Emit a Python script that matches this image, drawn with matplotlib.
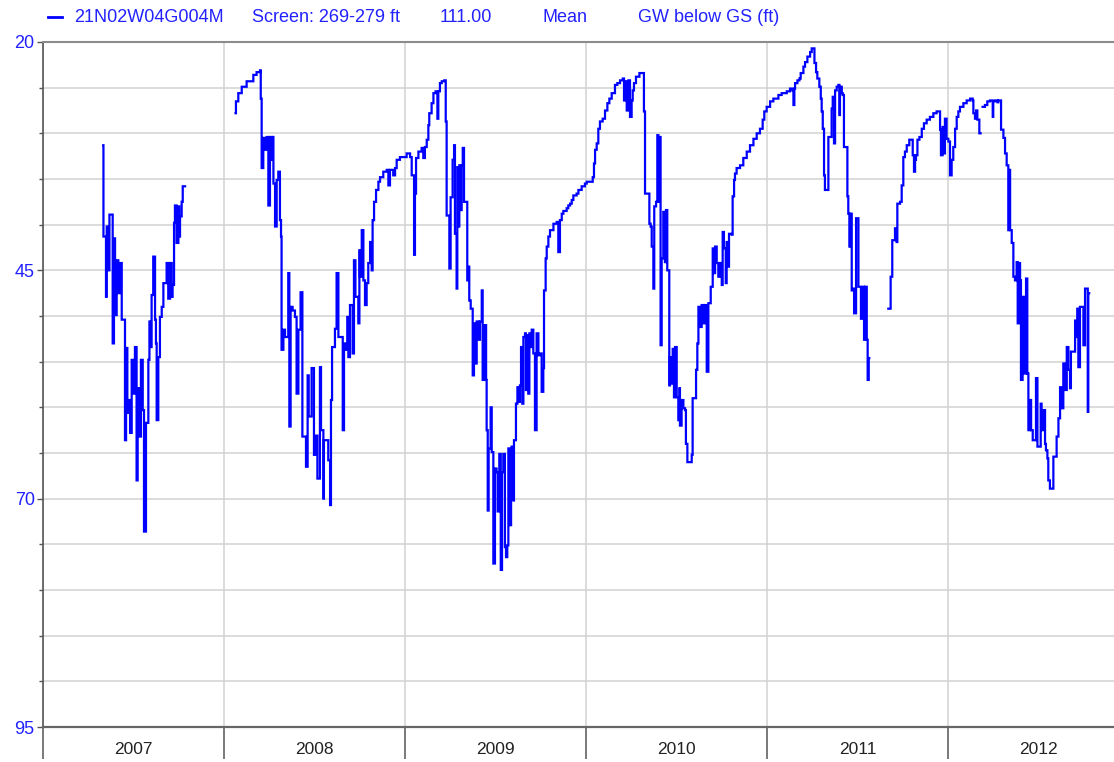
import numpy as np
import matplotlib
matplotlib.use("Agg")
import matplotlib.pyplot as plt
from matplotlib.lines import Line2D
from matplotlib.ticker import MultipleLocator, FixedLocator, NullFormatter

plt.rcParams['font.family'] = ['Liberation Sans', 'DejaVu Sans']

# ---------------- well 21N02W04G004M, depth to GW below ground surface (ft) ----------------
# readings as fraction of the calendar year ; None = break in the record
years = [2007, 2008, 2009, 2010, 2011, 2012]

f07 = [.333, .334, .348, .352, .361, .367, .385, .392, .398, .407, .416, .425, .435, .453, .459, .466, .472, .481,
       .490, .499, .508, .517, .523, .532, .541, .551, .558, .569, .582, .588, .595, .600, .609, .619, .624, .628,
       .637, .646, .656, .665, .683, .692, .702, .711, .716, .724, .729, .738, .748, .753, .757, .766, .772, .785]
d07 = [31.3, 41.3, 47.9, 40.2, 45.0, 38.9, 53.0, 41.5, 49.9, 43.9, 47.5, 44.2, 50.4, 63.6, 53.5, 60.6, 59.2, 62.8,
       54.8, 58.5, 53.4, 68.0, 57.9, 63.2, 54.8, 60.3, 73.6, 61.7, 54.8, 50.6, 53.4, 47.7, 43.5, 50.4, 53.0, 61.4,
       54.5, 50.1, 49.0, 46.4, 44.2, 48.1, 44.2, 47.9, 46.6, 39.8, 37.9, 42.0, 38.0, 41.3, 39.1, 37.5, 35.8, None]

f08 = [.064, .066, .079, .098, .125, .162, .180, .199, .203, .208, .217, .227, .236, .245, .254, .263, .269, .273,
       .282, .291, .300, .309, .315, .318, .328, .337, .355, .361, .368, .379, .392, .401, .411, .423, .433, .453,
       .462, .468, .484, .497, .508, .516, .530, .536, .549, .552, .576, .586, .591, .597, .613, .622, .632, .656,
       .663, .674, .681, .687, .696, .711, .718, .726, .742, .748, .751, .761, .770, .779, .788, .797, .807, .816,
       .821, .829, .840, .853, .862, .880, .899, .908, .917, .935, .945, .954, .972]
d08 = [27.8, 26.5, 25.6, 24.9, 24.3, 23.6, 23.3, 23.1, 26.2, 33.8, 30.5, 31.8, 30.4, 37.9, 30.4, 32.9, 30.4, 35.5,
       40.2, 35.1, 34.2, 39.5, 41.3, 53.7, 51.5, 52.3, 45.3, 62.1, 49.0, 49.4, 50.1, 58.5, 51.5, 47.4, 63.2, 66.5,
       56.5, 61.0, 55.7, 65.2, 63.1, 67.8, 55.6, 62.5, 70.0, 63.6, 65.8, 70.7, 59.2, 53.4, 51.4, 45.3, 52.3, 62.5,
       53.0, 53.7, 50.1, 54.5, 48.8, 54.1, 43.9, 47.9, 50.8, 42.8, 45.7, 40.6, 46.1, 48.8, 46.4, 44.2, 41.9, 45.0,
       39.5, 37.5, 36.2, 35.3, 34.8, 34.2, 34.0, 35.7, 34.0, 34.6, 33.8, 32.9, 32.6]

f09 = [.009, .028, .037, .050, .055, .061, .074, .092, .101, .110, .120, .129, .134, .147, .157, .169, .179, .184,
       .193, .203, .217, .225, .230, .245, .252, .263, .271, .276, .285, .289, .295, .300, .307, .313, .319, .326,
       .344, .350, .355, .363, .374, .381, .387, .396, .405, .414, .424, .429, .436, .448, .451, .457, .462, .473,
       .479, .488, .497, .506, .512, .521, .529, .536, .543, .552, .558, .565, .571, .580, .586, .589, .599, .602,
       .613, .621, .630, .635, .641, .648, .654, .663, .668, .676, .681, .687, .694, .700, .709, .718, .727, .737,
       .746, .755, .764, .768, .777, .783, .792, .801, .820, .838, .847, .856, .866, .875, .893, .902, .912, .921,
       .930, .948, .958, .976, .994]
d09 = [32.2, 32.6, 34.6, 43.3, 36.6, 32.7, 32.0, 31.6, 32.7, 31.5, 30.7, 29.1, 27.8, 26.7, 25.6, 25.4, 28.4, 25.4,
       24.5, 24.3, 24.2, 28.7, 39.0, 44.8, 37.0, 32.9, 31.3, 41.0, 47.0, 33.7, 40.2, 33.5, 38.4, 33.5, 31.6, 37.5,
       46.1, 44.6, 48.3, 49.2, 56.5, 50.8, 55.2, 50.6, 52.6, 50.6, 47.2, 57.0, 51.0, 57.0, 62.5, 71.3, 64.5, 60.0,
       64.9, 77.1, 66.7, 67.1, 71.4, 65.1, 77.8, 67.1, 65.1, 75.3, 76.4, 75.1, 64.5, 72.9, 66.9, 64.3, 70.2, 63.6,
       59.6, 57.8, 59.4, 57.6, 53.4, 59.6, 52.3, 51.9, 58.1, 52.1, 58.5, 51.9, 53.4, 51.5, 54.1, 62.5, 51.9, 54.3,
       54.1, 58.3, 55.7, 47.2, 43.7, 42.4, 41.3, 40.6, 39.9, 39.7, 43.0, 39.5, 38.8, 38.5, 38.2, 37.9, 37.7, 37.3,
       36.8, 36.6, 36.2, 35.8, 35.5]

f10 = [.004, .037, .044, .050, .059, .068, .077, .092, .105, .118, .129, .142, .160, .173, .188, .203, .210, .215,
       .225, .234, .243, .252, .258, .265, .276, .295, .320, .326, .350, .357, .363, .372, .377, .387, .394, .400,
       .405, .412, .418, .427, .436, .442, .449, .460, .464, .473, .479, .486, .492, .501, .510, .516, .519, .528,
       .538, .547, .552, .560, .584, .589, .608, .615, .621, .630, .639, .648, .657, .667, .676, .689, .700, .707,
       .713, .722, .731, .740, .750, .755, .762, .772, .777, .783, .790, .805, .810, .818, .823, .832, .851, .869,
       .888, .906, .925, .943, .961, .976, .985, .998]
d10 = [35.3, 34.8, 33.3, 31.8, 31.1, 29.5, 28.7, 28.4, 27.5, 26.7, 26.2, 25.6, 24.7, 24.5, 24.2, 24.0, 26.4, 24.3,
       27.5, 24.2, 28.2, 26.4, 25.3, 24.5, 23.8, 23.4, 27.6, 36.6, 39.9, 40.2, 42.4, 47.0, 38.0, 37.5, 30.2, 37.5,
       30.4, 53.2, 43.7, 38.6, 44.1, 38.4, 45.0, 57.6, 54.5, 57.4, 53.6, 58.9, 53.4, 58.9, 61.4, 57.9, 62.0, 59.2,
       60.1, 60.3, 64.0, 66.0, 65.2, 59.0, 55.9, 53.0, 49.0, 51.2, 48.8, 50.8, 48.8, 56.1, 48.6, 46.8, 42.6, 45.3,
       42.4, 44.2, 45.7, 44.2, 46.6, 40.8, 42.6, 46.4, 41.9, 44.6, 41.0, 41.1, 36.9, 35.1, 34.4, 33.8, 33.5, 32.7,
       32.0, 31.3, 30.6, 30.0, 29.5, 28.5, 27.6, 27.1]

f11 = [.017, .035, .063, .081, .109, .127, .140, .146, .151, .155, .168, .179, .186, .201, .210, .223, .238, .247,
       .262, .271, .278, .289, .297, .302, .308, .315, .320, .339, .357, .363, .370, .376, .385, .394, .400, .403,
       .413, .418, .425, .444, .449, .455, .462, .468, .477, .481, .492, .505, .519, .529, .536, .541, .551, .556,
       .562, .565, .670, .683, .692, .707, .716, .720, .735, .744, .753, .762, .772, .786, .805, .812, .818, .823,
       .831, .842, .855, .867, .882, .900, .919, .937, .956, .961, .970, .974, .983, .992]
d11 = [26.5, 26.2, 25.8, 25.6, 25.4, 25.1, 25.3, 26.9, 25.1, 24.5, 24.2, 24.0, 23.4, 22.7, 22.2, 21.6, 21.1, 20.7,
       22.3, 23.3, 24.0, 24.9, 26.2, 27.6, 29.5, 34.6, 36.2, 30.4, 27.3, 26.0, 31.1, 25.3, 24.9, 24.7, 28.0, 24.9,
       25.6, 25.8, 31.5, 36.9, 38.8, 42.4, 38.8, 47.2, 47.0, 49.7, 39.3, 46.8, 50.3, 46.8, 52.6, 46.8, 52.6, 57.0,
       54.6, None, 49.2, 45.7, 41.7, 40.4, 41.9, 37.7, 37.5, 35.7, 32.6, 32.0, 31.3, 30.7, 32.4, 34.2, 32.9, 32.4,
       30.7, 30.4, 29.5, 28.9, 28.5, 28.2, 27.8, 27.6, 29.6, 32.4, 29.3, 32.2, 28.4, 30.6]

f12 = [.002, .011, .020, .029, .039, .048, .057, .066, .085, .103, .122, .136, .140, .149, .155, .162, .173, .180,
       .191, .204, .217, .232, .247, .250, .260, .273, .278, .293, .306, .315, .324, .333, .338, .343, .352, .361,
       .370, .379, .385, .392, .398, .403, .412, .420, .431, .438, .444, .453, .459, .468, .486, .494, .512, .517,
       .527, .536, .541, .549, .554, .563, .582, .600, .610, .619, .628, .637, .646, .656, .665, .674, .679, .702,
       .707, .714, .720, .729, .748, .757, .772, .775, .780]
d12 = [30.9, 34.6, 32.9, 31.5, 29.5, 28.2, 27.6, 27.1, 26.7, 26.4, 26.2, 26.4, 27.8, 28.4, 27.5, 28.5, 30.0, None,
       27.1, 26.9, 26.5, 26.4, 28.2, 26.5, 26.4, 26.6, 26.4, 29.6, 30.5, 32.2, 33.5, 40.6, 34.0, 40.6, 42.0, 45.7,
       46.1, 44.1, 50.8, 44.2, 46.1, 57.0, 47.9, 56.3, 45.9, 56.3, 62.5, 59.2, 62.5, 63.6, 56.8, 64.3, 59.6, 62.5,
       60.3, 64.0, 64.7, 65.6, 68.0, 68.9, 65.4, 63.2, 61.2, 57.8, 60.1, 55.2, 58.1, 53.4, 55.9, 57.9, 53.9, 50.5,
       52.3, 49.2, 55.6, 49.0, 53.2, 47.0, 60.5, 47.5, None]

fracs = [f07, f08, f09, f10, f11, f12]
depths = [d07, d08, d09, d10, d11, d12]
# gap between end of 2007 record and the 2008 restart
gap_07 = 2007.785

t = np.concatenate([yr + np.array(f) for yr, f in zip(years, fracs)])
d = np.array([np.nan if v is None else v for dd in depths for v in dd], dtype=float)

# ---------------- plot ----------------
blue = '#0000ff'
txt_blue = '#2222ff'
fig = plt.figure(figsize=(11.14, 7.62), dpi=100)
ax = fig.add_axes([43 / 1114, 35 / 762, 1 - 43 / 1114, 685 / 762])

ax.plot(t, d, color=blue, lw=1.6, drawstyle='steps-post', solid_joinstyle='miter')

ax.set_xlim(2007, 2012.917)
ax.set_ylim(95, 20)

# year boundaries as long ticks + grid, year names centred in between
ax.xaxis.set_major_locator(FixedLocator(years))
ax.xaxis.set_major_formatter(NullFormatter())
ax.xaxis.set_minor_locator(FixedLocator([y + 0.5 for y in years]))
ax.set_xticklabels([str(y) for y in years], minor=True)
ax.tick_params(axis='x', which='major', length=23, width=1.1, color='#555555', direction='out')
ax.tick_params(axis='x', which='minor', length=0, pad=11, labelsize=12.5, labelcolor='#222222')

ax.yaxis.set_major_locator(FixedLocator([20, 45, 70, 95]))
ax.yaxis.set_minor_locator(MultipleLocator(5))
ax.tick_params(axis='y', which='both', direction='out', color='#555555', width=1.0)
ax.tick_params(axis='y', which='major', length=4.5, pad=1.5, labelsize=13, labelcolor=txt_blue)
ax.tick_params(axis='y', which='minor', length=3)

ax.grid(True, which='major', axis='x', color='#d2d2d2', lw=1.1)
ax.grid(True, which='minor', axis='y', color='#d2d2d2', lw=1.1)
ax.grid(True, which='major', axis='y', color='#d2d2d2', lw=1.1)
ax.set_axisbelow(True)

ax.spines['right'].set_visible(False)
ax.spines['top'].set_color('#8c8c8c')
ax.spines['top'].set_linewidth(1.5)
ax.spines['left'].set_color('#555555')
ax.spines['left'].set_linewidth(1.2)
ax.spines['bottom'].set_color('#666666')
ax.spines['bottom'].set_linewidth(1.6)

# header line
ty = 1 - 17 / 762
fig.add_artist(Line2D([48 / 1114, 62 / 1114], [ty, ty], color=blue, lw=2))
fig.text(74 / 1114, ty, '21N02W04G004M', color=txt_blue, fontsize=13, va='center')
fig.text(252 / 1114, ty, 'Screen: 269-279 ft', color=txt_blue, fontsize=13, va='center')
fig.text(440 / 1114, ty, '111.00', color=txt_blue, fontsize=13, va='center')
fig.text(543 / 1114, ty, 'Mean', color=txt_blue, fontsize=13, va='center')
fig.text(638 / 1114, ty, 'GW below GS (ft)', color=txt_blue, fontsize=13, va='center')

fig.savefig('out.png', dpi=100, facecolor='white')
